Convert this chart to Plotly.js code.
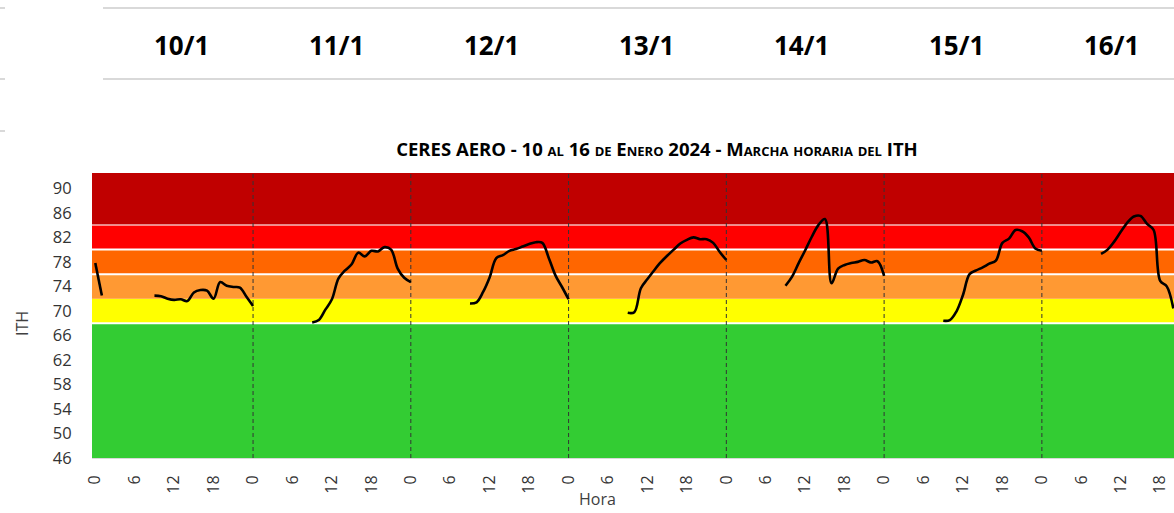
<!DOCTYPE html>
<html>
<head>
<meta charset="utf-8">
<script src="https://cdn.plot.ly/plotly-3.0.1.min.js"></script>
<style>
  html, body { margin: 0; padding: 0; background: #ffffff; }
  #chart { width: 1174px; height: 513px; }
</style>
</head>
<body>
<div id="chart"></div>
<script>
// ---------- data ----------
const dayLabels = ['10/1', '11/1', '12/1', '13/1', '14/1', '15/1', '16/1'];
const hours = [0,1,2,3,4,5,6,7,8,9,10,11,12,13,14,15,16,17,18,19,20,21,22,23];
const hourTicks = [0, 6, 12, 18];

const ith10 = [77.8, 72.5, null, null, null, null, null, null, null, 72.5, 72.4, 72.0, 71.8, 71.9, 71.6, 73.0, 73.4, 73.3, 72.0, 74.7, 74.1, 73.9, 73.8, 72.3];
const ith11 = [70.8, null, null, null, null, null, null, null, null, 68.1, 68.5, 70.2, 71.9, 75.3, 76.6, 77.6, 79.5, 78.9, 79.8, 79.7, 80.4, 80.0, 76.9, 75.4];
const ith12 = [74.7, null, null, null, null, null, null, null, null, 71.2, 71.4, 73.1, 75.5, 78.6, 79.1, 79.8, 80.1, 80.5, 80.9, 81.2, 81.1, 78.6, 75.8, 73.9];
const ith13 = [71.9, null, null, null, null, null, null, null, null, 69.7, 69.8, 73.7, 75.2, 76.6, 77.9, 79.0, 80.0, 81.0, 81.6, 82.0, 81.7, 81.7, 81.1, 79.6];
const ith14 = [78.3, null, null, null, null, null, null, null, null, 74.1, 75.6, 77.8, 79.9, 82.1, 84.0, 85.0, 74.5, 76.9, 77.5, 77.8, 78.0, 78.3, 77.9, 78.1];
const ith15 = [75.7, null, null, null, null, null, null, null, null, 68.4, 68.5, 69.9, 72.6, 76.0, 76.6, 77.1, 77.7, 78.2, 81.1, 81.8, 83.2, 83.0, 82.0, 80.2];
const ith16 = [79.8, null, null, null, null, null, null, null, null, 79.3, 80.0, 81.3, 82.9, 84.4, 85.4, 85.5, 84.2, 83.2, 74.9, 74.0, 70.4, null, null, null];

const yTicks = [46, 50, 54, 58, 62, 66, 70, 74, 78, 82, 86, 90];
const bandEdges = [46, 68, 72, 76, 80, 84, 92.5];
const bandColors = ['#33CC33', '#FFFF00', '#FF9933', '#FF6600', '#FF0000', '#C00000'];
const separators = [68, 76, 80, 84];
const separatorColors = ['#FFFFFF', '#FFFFFF', '#FFFFFF', 'rgba(255,255,255,0.55)'];

// ---------- build series ----------
const allDays = [ith10, ith11, ith12, ith13, ith14, ith15, ith16];
const xs = [], ys = [];
allDays.forEach((arr, d) => {
  hours.forEach((h, i) => { xs.push(d * 24 + h); ys.push(arr[i]); });
});
const tickvals = [], ticktext = [];
dayLabels.forEach((_, d) => hourTicks.forEach(h => { tickvals.push(d * 24 + h); ticktext.push(String(h)); }));

const FONT = 'Open Sans, Noto Sans, sans-serif';
const shapes = [];
for (let i = 0; i < bandColors.length; i++) {
  shapes.push({type: 'rect', layer: 'below', xref: 'paper', x0: 0, x1: 1, yref: 'y',
    y0: bandEdges[i], y1: bandEdges[i + 1], fillcolor: bandColors[i], line: {width: 0}});
}
separators.forEach((v, i) => shapes.push({type: 'line', layer: 'below', xref: 'paper', x0: 0, x1: 1,
  yref: 'y', y0: v, y1: v, line: {color: separatorColors[i], width: 2}}));
for (let d = 1; d < dayLabels.length; d++) {
  shapes.push({type: 'line', layer: 'below', xref: 'x', x0: d * 24, x1: d * 24, yref: 'paper', y0: 0, y1: 1,
    line: {color: '#333333', width: 1, dash: '4px,3px'}});
}
const plotL = 92, plotR = 1174, plotT = 173, plotB = 458;
const px2x = p => (p - plotL) / (plotR - plotL);
const py2y = p => (plotB - p) / (plotB - plotT);
[8, 79].forEach(py => shapes.push({type: 'line', xref: 'paper', yref: 'paper', x0: px2x(103), x1: 1,
  y0: py2y(py), y1: py2y(py), line: {color: '#D9D9D9', width: 2}}));
[8, 79, 131].forEach(py => shapes.push({type: 'line', xref: 'paper', yref: 'paper', x0: px2x(0), x1: px2x(5),
  y0: py2y(py), y1: py2y(py), line: {color: '#D9D9D9', width: 2}}));

const headerCenters = [181, 336, 491, 646, 801, 956, 1111];
const annotations = dayLabels.map((t, i) => ({
  text: '<b>' + t + '</b>', xref: 'paper', yref: 'paper', x: px2x(headerCenters[i]), y: py2y(45),
  xanchor: 'center', yanchor: 'middle', showarrow: false,
  font: {family: FONT, size: 26, color: '#000000'}
}));
annotations.push({text: 'Hora', xref: 'paper', yref: 'paper', x: px2x(597), y: py2y(499),
  xanchor: 'center', yanchor: 'middle', showarrow: false, font: {family: FONT, size: 16, color: '#404040'}});
annotations.push({text: 'ITH', xref: 'paper', yref: 'paper', x: px2x(22), y: py2y(324), textangle: -90,
  xanchor: 'center', yanchor: 'middle', showarrow: false, font: {family: FONT, size: 16, color: '#404040'}});

const sc = s => '<span style="font-variant:small-caps">' + s + '</span>';
const titleText = '<b>CERES AERO - 10 ' + sc('al') + ' 16 ' + sc('de Enero') + ' 2024 - ' + sc('Marcha horaria del') + ' ITH</b>';

const trace = {
  x: xs, y: ys, type: 'scatter', mode: 'lines', connectgaps: false,
  line: {color: '#000000', width: 2.6, shape: 'spline', smoothing: 1},
  hoverinfo: 'skip', showlegend: false
};

const layout = {
  width: 1174, height: 513,
  margin: {l: plotL, r: 0, t: plotT, b: 513 - plotB, pad: 0},
  paper_bgcolor: '#FFFFFF', plot_bgcolor: '#FFFFFF',
  title: {text: titleText, xref: 'paper', x: px2x(657), xanchor: 'center', yref: 'container',
    y: 1 - 150 / 513, yanchor: 'middle', font: {family: FONT, size: 18.5, color: '#000000'}},
  xaxis: {range: [-0.5, 164.1], tickmode: 'array', tickvals: tickvals, ticktext: ticktext, tickangle: -90,
    showgrid: false, zeroline: false, showline: true, linecolor: '#D9D9D9', linewidth: 1,
    ticks: 'outside', ticklen: 10, tickcolor: 'rgba(0,0,0,0)',
    tickfont: {family: FONT, size: 16, color: '#333333'}, fixedrange: true},
  yaxis: {range: [46, 92.5], tickmode: 'array', tickvals: yTicks, showgrid: false, zeroline: false,
    showline: false, ticks: 'outside', ticklen: 16, tickcolor: 'rgba(0,0,0,0)',
    tickfont: {family: FONT, size: 16.5, color: '#333333'}, fixedrange: true},
  shapes: shapes, annotations: annotations, showlegend: false
};

Plotly.newPlot('chart', [trace], layout, {staticPlot: true, displayModeBar: false});
</script>
</body>
</html>
